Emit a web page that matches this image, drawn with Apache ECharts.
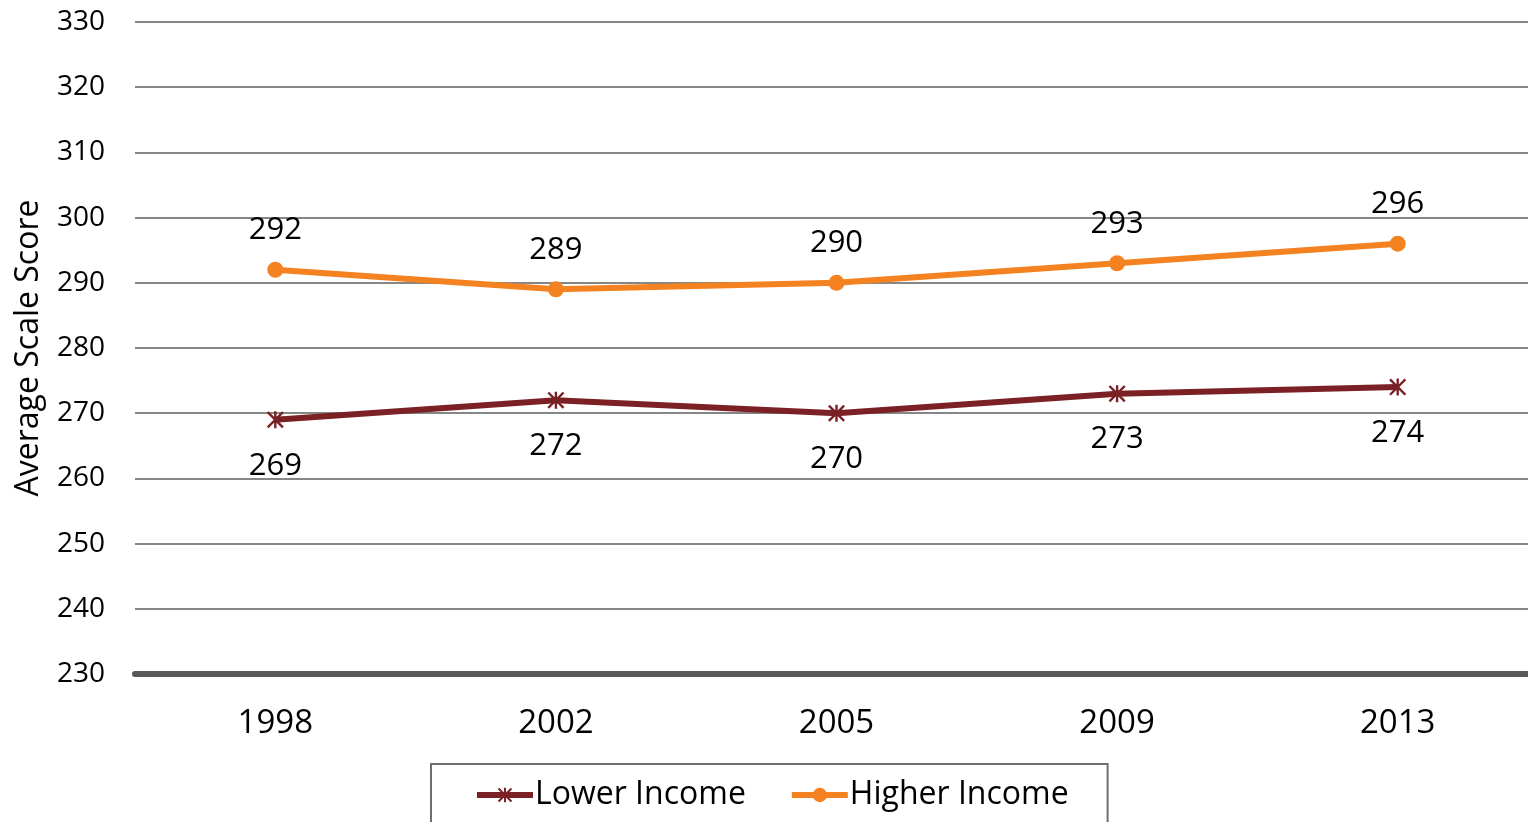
<!DOCTYPE html>
<html><head><meta charset="utf-8">
<script src="https://cdn.jsdelivr.net/npm/echarts@6/dist/echarts.min.js"></script>
<style>html,body{margin:0;padding:0;background:#fff}#c{width:1528px;height:822px}</style>
</head><body><div id="c"></div>
<script>
const years = ['1998','2002','2005','2009','2013'];
const lowerIncome = [269, 272, 270, 273, 274];
const higherIncome = [292, 289, 290, 293, 296];
const yTitle = 'Average Scale Score';
const FONT = 'Open Sans';
const star = 'path://M1,0 L5,4 L9,0 L10,1 L6,5 L10,9 L9,10 L5,6 L1,10 L0,9 L4,5 L0,1 Z M4.3,0 L5.7,0 L5.7,10 L4.3,10 Z';
const chart = echarts.init(document.getElementById('c'));
chart.setOption({
  animation: false,
  textStyle: {fontFamily: FONT},
  grid: {left: 135, width: 1403, top: 22, bottom: 148, outerBoundsMode: 'none'},
  xAxis: {
    type: 'category', data: years, boundaryGap: true,
    axisLine: {show: true, lineStyle: {color: '#595959', width: 6}},
    axisTick: {show: false},
    axisLabel: {fontSize: 33, color: '#000', margin: 33, fontFamily: FONT}
  },
  yAxis: {
    type: 'value', min: 230, max: 330, interval: 10,
    name: yTitle, nameLocation: 'middle', nameGap: 90, nameRotate: 90,
    nameTextStyle: {fontSize: 32, color: '#000', fontFamily: FONT},
    axisLine: {show: false}, axisTick: {show: false},
    axisLabel: {fontSize: 28, color: '#000', margin: 30, fontFamily: FONT, padding: [4,0,0,0]},
    splitLine: {lineStyle: {color: '#868686', width: 2}}
  },
  legend: {
    left: 431, top: 764,
    borderColor: '#6e6e6e', borderWidth: 2,
    padding: [15, 39, 40, 43], itemGap: 43, itemWidth: 56, itemHeight: 18,
    lineStyle: {width: 6},
    textStyle: {fontSize: 32, color: '#000', fontFamily: FONT, padding: [0,0,0,-3]},
    data: ['Lower Income', 'Higher Income']
  },
  series: [
    {
      name: 'Lower Income', type: 'line', data: lowerIncome,
      symbol: star, symbolSize: 17,
      lineStyle: {color: '#7B2125', width: 6},
      itemStyle: {color: '#7B2125'},
      label: {show: true, position: 'bottom', distance: 22, fontSize: 31, color: '#000', fontFamily: FONT}
    },
    {
      name: 'Higher Income', type: 'line', data: higherIncome,
      symbol: 'circle', symbolSize: 16,
      lineStyle: {color: '#F58220', width: 6},
      itemStyle: {color: '#F58220'},
      label: {show: true, position: 'top', distance: 16, fontSize: 31, color: '#000', fontFamily: FONT}
    }
  ]
});
</script></body></html>
